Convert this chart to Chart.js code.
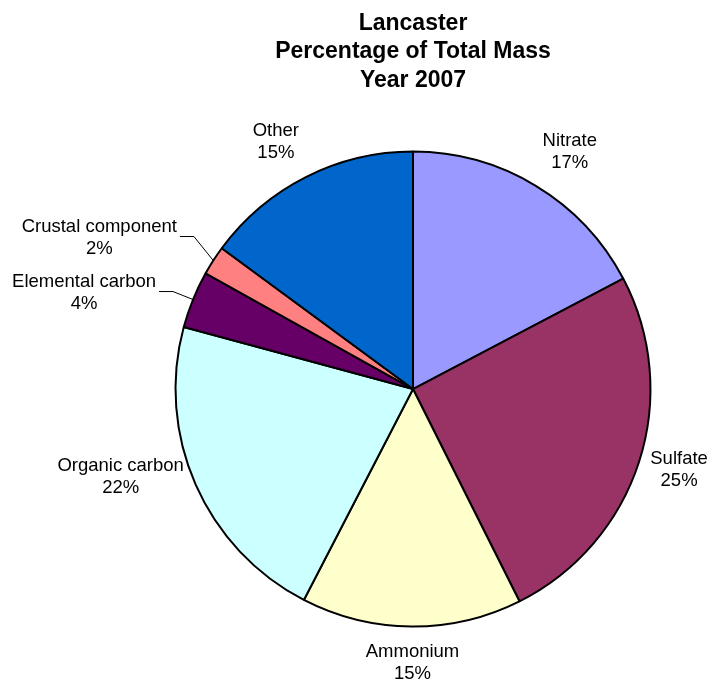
<!DOCTYPE html>
<html>
<head>
<meta charset="utf-8">
<script src="https://cdn.jsdelivr.net/npm/chart.js@4.4.1/dist/chart.umd.min.js"></script>
<style>
  html, body { margin: 0; padding: 0; background: #fff; }
  #wrap { width: 714px; height: 686px; }
</style>
</head>
<body>
<div id="wrap"><canvas id="massPie"></canvas></div>
<script>
// Lancaster 2007 - share of total mass by component
const components = ['Nitrate', 'Sulfate', 'Ammonium', 'Organic carbon', 'Elemental carbon', 'Crustal component', 'Other'];
const massShare = [17.3, 25.3, 15.0, 21.6, 3.9, 2.0, 14.9];
const sliceColors = ['#9999FF', '#993366', '#FFFFCC', '#CCFFFF', '#660066', '#FF8080', '#0066CC'];
const titleLines = ['Lancaster', 'Percentage of Total Mass', 'Year 2007'];

const FONT = '"Liberation Sans", Arial, sans-serif';

// label centre offset from the midpoint of each slice's outer edge
const labelLayout = [
    { dx: 34, dy: -34 },
    { dx: 40, dy: 8 },
    { dx: 1, dy: 36 },
    { dx: -75, dy: -8 },
    { dx: -109, dy: -7, leader: true },
    { dx: -114, dy: -23, leader: true },
    { dx: -30, dy: -35 }
];

const sliceLabels = {
    id: 'sliceLabels',
    afterDatasetsDraw(chart) {
        const ctx = chart.ctx;
        const meta = chart.getDatasetMeta(0);
        const total = massShare.reduce((s, v) => s + v, 0);
        ctx.save();
        ctx.font = '18.5px ' + FONT;
        ctx.fillStyle = '#000';
        ctx.strokeStyle = '#000';
        ctx.lineWidth = 1;
        ctx.textAlign = 'center';
        ctx.textBaseline = 'middle';
        meta.data.forEach((arc, i) => {
            const { x, y, startAngle, endAngle, outerRadius } =
                arc.getProps(['x', 'y', 'startAngle', 'endAngle', 'outerRadius'], true);
            const mid = (startAngle + endAngle) / 2;
            const ex = x + Math.cos(mid) * outerRadius;
            const ey = y + Math.sin(mid) * outerRadius;
            const lay = labelLayout[i];
            const cx = ex + lay.dx;
            const cy = ey + lay.dy;
            const pct = Math.round(massShare[i] / total * 100) + '%';
            ctx.fillText(components[i], cx, cy - 11);
            ctx.fillText(pct, cx, cy + 11);
            if (lay.leader) {
                const w = ctx.measureText(components[i]).width;
                const endX = cx + w / 2 + 3;
                const ly = cy - 1;
                ctx.beginPath();
                ctx.moveTo(endX, ly);
                ctx.lineTo(endX + 14, ly);
                ctx.lineTo(ex, ey);
                ctx.stroke();
            }
        });
        ctx.restore();
    }
};

new Chart(document.getElementById('massPie'), {
    type: 'pie',
    data: {
        labels: components,
        datasets: [{
            data: massShare,
            backgroundColor: sliceColors,
            borderColor: '#000',
            borderWidth: 2
        }]
    },
    options: {
        responsive: true,
        maintainAspectRatio: false,
        animation: false,
        layout: { padding: { left: 150, right: 38, top: 0, bottom: 58.5 } },
        plugins: {
            legend: { display: false },
            tooltip: { enabled: false },
            title: {
                display: true,
                text: titleLines,
                color: '#000',
                font: { family: FONT, size: 23, weight: 'bold', lineHeight: 1.24 },
                padding: { top: 9, bottom: 56 }
            }
        }
    },
    plugins: [sliceLabels]
});
</script>
</body>
</html>
